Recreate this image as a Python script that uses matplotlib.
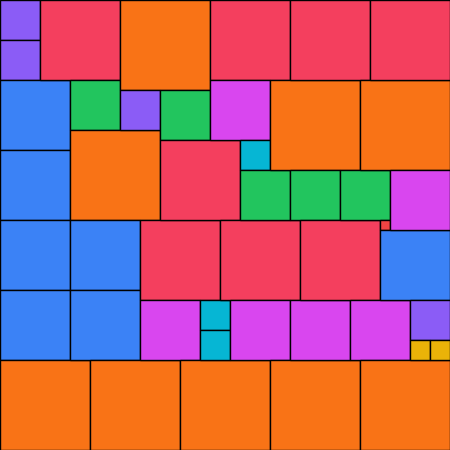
import numpy as np
import matplotlib.pyplot as plt
from matplotlib.patches import Rectangle

# square sides (grid units), in the order they are packed column by column
sizes = [4, 4, 7, 7, 7, 7, 9,
         8,
         5, 9, 7, 7,
         9,
         9, 4,
         8, 6,
         5, 8,
         9,
         3, 3,
         8, 6,
         8,
         6,
         3, 5,
         9, 9,
         8, 5, 6,
         8,
         5,
         6,
         9, 9,
         8,
         1, 7,
         6,
         4, 2,
         2]

colors = {9: '#F97316', 8: '#F43F5E', 7: '#3B82F6', 6: '#D946EF',
          5: '#22C55E', 4: '#8B5CF6', 3: '#06B6D4', 2: '#EAB308', 1: '#EF4444'}

side = 45
grid = np.zeros((side, side), dtype=bool)  # [x, y]


def place(s):
    for x in range(side - s + 1):
        for y in range(side - s + 1):
            if not grid[x:x + s, y:y + s].any():
                grid[x:x + s, y:y + s] = True
                return x, y
    raise ValueError("no room")


fig = plt.figure(figsize=(4.5, 4.5), dpi=100)
ax = fig.add_axes([0, 0, 1, 1])
for s in sizes:
    x, y = place(s)
    ax.add_patch(Rectangle((x, y), s, s, facecolor=colors[s],
                           edgecolor='black', linewidth=1.0))
ax.set_xlim(0, side)
ax.set_ylim(side, 0)
ax.axis('off')

fig.savefig("out.png", dpi=100)
